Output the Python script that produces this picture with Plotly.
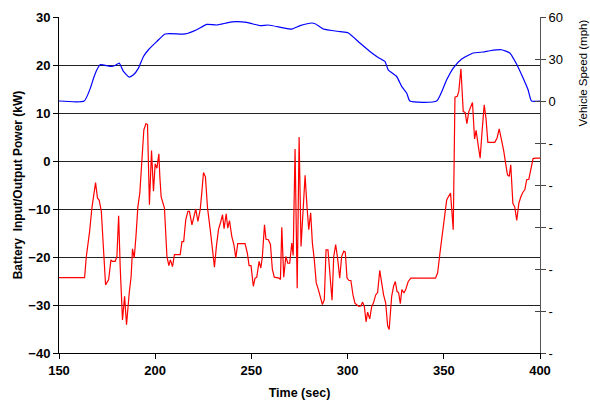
import plotly.graph_objects as go

# Battery power (kW), left axis
time_red = [150, 163.3, 164.2, 165.9, 167.1, 168, 169, 170, 170.9, 172, 173.2, 174.2, 175.8, 177, 177.8, 179.2,
            180.1, 181, 181.8, 183, 184.1, 185.1, 186.5, 187.5, 188.2, 189.1, 190, 191, 192, 193.1, 194.1, 195.2,
            196, 197, 198.1, 199.1, 200, 200.9, 201.9, 202.4, 203.1, 204.8, 206.1, 207.1, 207.9, 209, 210, 213,
            213.9, 214.8, 215.9, 217, 217.8, 219.1, 220.2, 221.1, 222.2, 223.4, 224.2, 225.1, 226.1, 227.2, 228.6,
            229.8, 230.8, 231.8, 232.9, 234.1, 235, 235.8, 236.9, 237.7, 238.6, 239.8, 240.9, 241.9, 242.9, 246.7,
            247.9, 248.8, 249.8, 251, 251.9, 252.8, 254, 254.9, 255.7, 256.8, 257.6, 258.8, 259.9, 260.9, 261.9,
            264.4, 265.1, 265.8, 266.8, 267.9, 268.9, 269.9, 271, 271.7, 272.7, 273.8, 274.8, 275.8, 276.8, 277.9,
            278.9, 279.8, 280.8, 281.7, 282.7, 283.7, 284.8, 285.8, 286.9, 287.9, 288.8, 289.8, 290.9, 291.9, 292.8,
            293.8, 294.9, 295.9, 296.9, 298, 298.8, 299.7, 300.7, 301.7, 302.8, 303.8, 304.9, 305.9, 306.9, 307.8,
            308.7, 309.6, 310.4, 311.5, 312.5, 313.5, 314.6, 315.6, 316.7, 317.7, 318.7, 319.8, 320.8, 321.6, 322.9,
            323.9, 324.8, 325.7, 326.5, 327.4, 328.2, 329.3, 330.2, 331.5, 332.9, 345.7, 346.8, 348, 349.2, 350.2,
            351.5, 352.3, 353.5, 354.9, 355.8, 357, 357.8, 358.9, 360.1, 361.1, 362, 363, 364.1, 364.9, 366, 366.8,
            367.9, 368.9, 369.9, 371, 371.9, 372.9, 376.5, 377.7, 378.8, 380, 381.1, 382.1, 383.1, 384, 384.8,
            385.9, 386.9, 387.9, 389, 390, 391.1, 392.1, 393.1, 394.2, 395.2, 396.4, 397.7, 400]
power_kw = [-24.3, -24.3, -19.9, -14.7, -9.8, -7.7, -4.5, -7.7, -8.2, -10.5, -18.5, -25.8, -24.7, -20.6, -20.9, -20.9,
            -19.9, -11.4, -22, -33.1, -28.2, -34.1, -27.5, -24.0, -18.3, -20.2, -15.7, -9.5, -6.7, 0.3, 6.5, 7.8,
            7.6, -9.1, 2.2, -6.3, -0.6, -1.5, 1.5, -3.2, -7.5, -9.8, -19.9, -21.8, -20.6, -22, -19.5, -19.5,
            -16.8, -16.8, -12.2, -10.5, -10.5, -13.3, -11.2, -10, -12.6, -10.1, -6.7, -2.4, -3.3, -9.8, -14.3,
            -18.5, -22.1, -17.8, -14.3, -12.6, -11.2, -14.1, -11, -14, -12.4, -15.7, -17.4, -20.2, -17.2, -17.2,
            -19.2, -21.8, -21.8, -26.1, -24.4, -24.2, -20.9, -22.3, -19.9, -13.3, -16.3, -16.4, -17.4, -22.6, -24.2,
            -24.4, -24.7, -13.8, -24.2, -19.9, -21.3, -21.3, -17.1, -19.7, 2.5, -26.5, 5.0, -17.8, -10.1, -3,
            -9.5, -14.3, -10.8, -17.1, -20.6, -25.4, -26.8, -28.5, -29.9, -28.9, -18.5, -18.5, -24, -29, -19.9,
            -17.4, -20.6, -24.4, -19.9, -18.8, -19, -24.4, -24.9, -24.9, -27.9, -29.6, -30, -30.3, -30.2, -29.4,
            -30.3, -33.5, -31.5, -32.9, -30.4, -29.5, -27.9, -27.4, -22.8, -25.4, -27.9, -29.6, -34.3, -35.1, -28.2,
            -26.1, -25.1, -27.2, -27.4, -29.7, -26.8, -27.5, -26.8, -25.1, -24.4, -24.4, -23.3, -19.2, -15, -11.5,
            -8.1, -7.5, -6.7, -14.3, 13.3, 13.5, 14.5, 19.2, 10.3, 10.1, 7.8, 10.3, 11.4, 12.2, 4.6, 6.4,
            3.2, 0.6, 6.2, 11.7, 9, 3.9, 3.9, 4.8, 6.7, 4.4, 2.2, -0.4, -2.9, -3.2, -0.8,
            -8.8, -9.6, -12.4, -8.8, -7.5, -6.5, -6, -3.9, -3.8, -1.8, 0.5, 0.6, 0.6]

# Vehicle speed (mph), right axis
time_speed = [150, 163.1, 166.3, 168, 169.7, 171.4, 176.7, 179.2, 181.3, 183.5, 186.5, 188.7, 191.3, 193.9, 196.5,
              200.9, 205.2, 215.6, 221.6, 226.8, 232, 239.8, 247.6, 254.5, 258.8, 266.6, 271, 275.3, 281.4, 283.1,
              287.4, 296.1, 300.4, 306.4, 311.6, 315.9, 319.4, 321.1, 325.5, 328.1, 330.7, 332.4, 346.3, 351.5,
              354.9, 359.3, 365.3, 370.5, 374, 380, 384.3, 387.8, 391.2, 393.8, 395.6, 400]
speed_mph = [0, 0, 9.2, 16.4, 22.3, 25.9, 24.7, 25.4, 27.1, 21.1, 17.1, 18.7, 23.5, 31.8, 36.6,
             42.6, 47.9, 47.9, 50.9, 54.7, 54.3, 56.5, 56.2, 53.8, 54.3, 52.2, 51.4, 53.8, 55.7, 55.2,
             51.4, 49.5, 48.6, 41.4, 35.4, 31.1, 28.3, 22.3, 17.5, 10.4, 5.7, 0, 0, 15.2,
             23.5, 30, 34.3, 35, 35.9, 36.6, 34.3, 26.4, 16.4, 8, 0, 0]

x_ticks = [150, 200, 250, 300, 350, 400]
left_ticks = [30, 20, 10, 0, -10, -20, -30, -40]
right_tickvals = [60, 30, 0, -30, -60, -90, -120, -150, -180]
right_ticktext = ["60", "30", "0", "-", "-", "-", "-", "-", "-"]

FONT = "Liberation Sans, Arial, sans-serif"

fig = go.Figure()
fig.add_trace(go.Scatter(x=time_speed, y=speed_mph, mode="lines", yaxis="y2",
                         line=dict(color="#0000FF", width=1.2, shape="spline", smoothing=0.5),
                         showlegend=False, hoverinfo="skip"))
fig.add_trace(go.Scatter(x=time_red, y=power_kw, mode="lines", yaxis="y",
                         line=dict(color="#FF0000", width=1.2),
                         showlegend=False, hoverinfo="skip"))
# dummy trace to activate yaxis3 (inner half of the right-axis cross ticks)
fig.add_trace(go.Scatter(x=[150], y=[None], yaxis="y3", showlegend=False, hoverinfo="skip"))

fig.update_layout(
    width=590, height=400,
    margin=dict(l=59, r=50, t=17, b=47),
    paper_bgcolor="white", plot_bgcolor="white",
    font=dict(family=FONT, size=12, color="black"),
    xaxis=dict(range=[150, 400], tickvals=x_ticks, ticks="outside", ticklen=5, tickcolor="black",
               showline=True, linecolor="black", linewidth=1, showgrid=False, zeroline=False,
               automargin=False,
               tickfont=dict(family=FONT, size=13, weight="bold"),
               title=dict(text="Time (sec)", font=dict(family=FONT, size=12.5, weight="bold"), standoff=11)),
    yaxis=dict(range=[-40, 30], tickvals=left_ticks, ticks="outside", ticklen=5, tickcolor="black",
               showline=True, linecolor="black", linewidth=1, showgrid=True, gridcolor="#222222",
               gridwidth=1.2, zeroline=False, automargin=False,
               tickfont=dict(family=FONT, size=13, weight="bold"),
               title=dict(text="Battery\u00a0 Input/Output Power (kW)",
                          font=dict(family=FONT, size=12, weight="bold"), standoff=3)),
    yaxis2=dict(range=[-180, 60], overlaying="y", side="right", tickvals=right_tickvals,
                ticktext=right_ticktext, ticks="outside", ticklen=5, tickcolor="#444444",
                showline=True, linecolor="#555555", linewidth=1, showgrid=False, zeroline=False,
                automargin=False, tickfont=dict(family=FONT, size=13)),
    yaxis3=dict(range=[-180, 60], overlaying="y", side="right", tickvals=right_tickvals,
                ticks="inside", ticklen=5, tickcolor="#444444", showticklabels=False,
                showline=False, showgrid=False, zeroline=False, automargin=False),
    annotations=[dict(text="Vehicle Speed (mph)", xref="paper", yref="paper",
                      x=(583 - 59) / 481, y=(353 - 73.5) / 336, xanchor="center", yanchor="middle",
                      textangle=-90, showarrow=False, font=dict(family=FONT, size=11.5, color="black"))],
)

fig.write_html("out.html")
